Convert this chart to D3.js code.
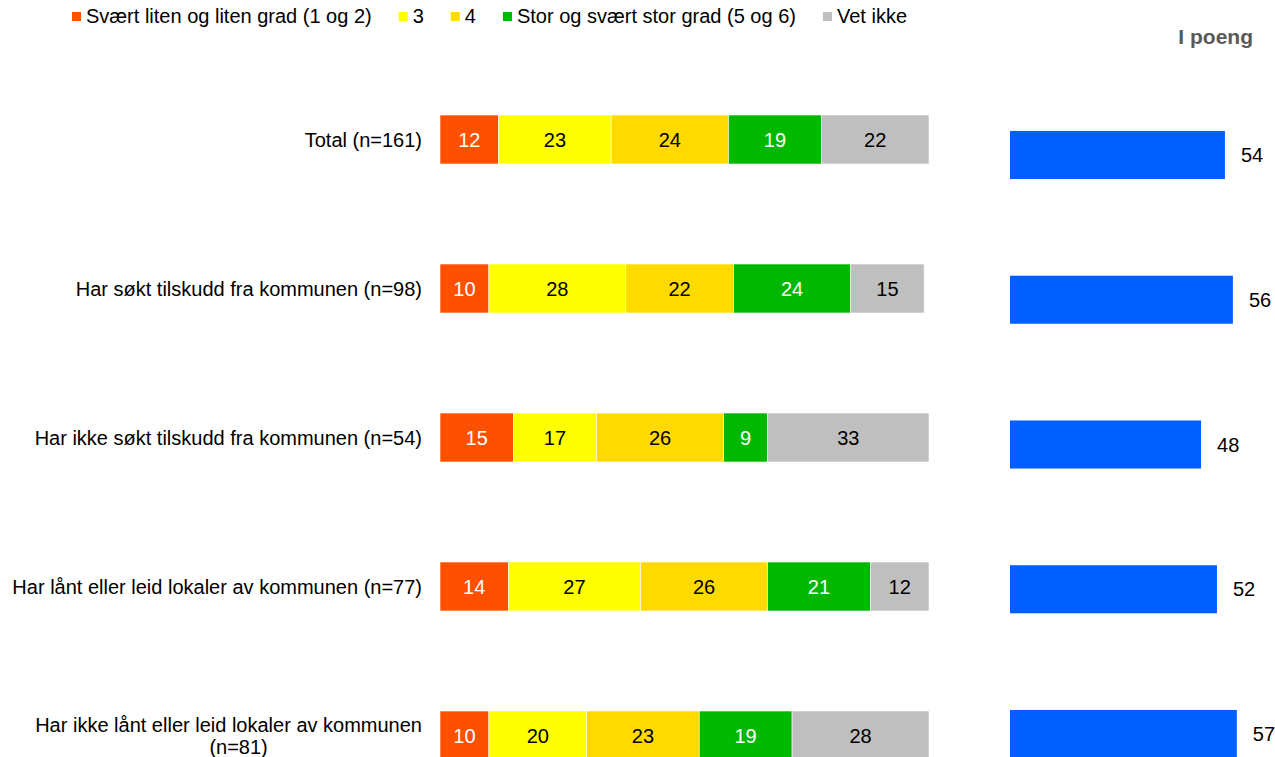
<!DOCTYPE html>
<html>
<head>
<meta charset="utf-8">
<script src="https://cdn.jsdelivr.net/npm/d3@7.9.0/dist/d3.min.js"></script>
<style>
  html, body { margin: 0; padding: 0; background: #fff; }
  svg { display: block; font-family: Arial, "Liberation Sans", sans-serif; }
</style>
</head>
<body>
<svg id="chart" width="1275" height="757"></svg>
<script>
/* ---------- Data ---------- */
const categories = [
  "Total (n=161)",
  "Har søkt tilskudd fra kommunen (n=98)",
  "Har ikke søkt tilskudd fra kommunen (n=54)",
  "Har lånt eller leid lokaler av kommunen (n=77)",
  "Har ikke lånt eller leid lokaler av kommunen|(n=81)"
];
const seriesNames = [
  "Svært liten og liten grad (1 og 2)",
  "3",
  "4",
  "Stor og svært stor grad (5 og 6)",
  "Vet ikke"
];
const lowValues   = [12, 10, 15, 14, 10];
const threeValues = [23, 28, 17, 27, 20];
const fourValues  = [24, 22, 26, 26, 23];
const highValues  = [19, 24, 9, 21, 19];
const dkValues    = [22, 15, 33, 12, 28];
const pointValues = [54, 56, 48, 52, 57];
const pointTitle  = "I poeng";

const seriesColors = ["#ff5000", "#ffff00", "#ffda00", "#00b800", "#bfbfbf"];
const labelColors  = ["#fff", "#000", "#000", "#fff", "#000"];
const pointColor   = "#0060ff";

/* ---------- Setup ---------- */
const svg = d3.select("#chart");
const FS = 20;

const rows = categories.map((c, i) => ({
  cat: c,
  vals: [lowValues[i], threeValues[i], fourValues[i], highValues[i], dkValues[i]],
  points: pointValues[i]
}));

const stack = d3.stack().keys(d3.range(seriesNames.length)).value((d, k) => d.vals[k]);
const stacked = stack(rows);

// left stacked bars
const x = d3.scaleLinear().domain([0, 100]).range([440, 929]);
const y = d3.scaleBand().domain(categories)
  .range([65, 810]).paddingInner(100 / 149).paddingOuter(50 / 149);

// right "I poeng" bars
const x2 = d3.scaleLinear().domain([0, 100]).range([1010, 1408]);
const y2 = d3.scaleBand().domain(categories)
  .range([82.6, 806.4]).paddingInner(0.668).paddingOuter(0.334);

/* ---------- Stacked bars ---------- */
const layers = svg.append("g").selectAll("g")
  .data(stacked)
  .join("g")
  .attr("fill", s => seriesColors[s.key]);

layers.selectAll("rect")
  .data(s => s.map(d => ({ d, key: s.key })))
  .join("rect")
  .attr("x", p => x(p.d[0]))
  .attr("y", p => y(p.d.data.cat))
  .attr("width", p => x(p.d[1]) - x(p.d[0]))
  .attr("height", y.bandwidth())
  .attr("stroke", "#fff")
  .attr("stroke-width", 0.6);

layers.selectAll("text")
  .data(s => s.map(d => ({ d, key: s.key })))
  .join("text")
  .attr("x", p => (x(p.d[0]) + x(p.d[1])) / 2)
  .attr("y", p => y(p.d.data.cat) + y.bandwidth() / 2 + 7)
  .attr("text-anchor", "middle")
  .attr("font-size", FS)
  .attr("fill", p => labelColors[p.key])
  .text(p => p.d[1] - p.d[0]);

/* ---------- Category labels ---------- */
svg.append("g").selectAll("text")
  .data(categories)
  .join("text")
  .attr("font-size", FS)
  .attr("fill", "#000")
  .each(function (c) {
    const lines = c.split("|");
    const t = d3.select(this);
    const cy = y(c) + y.bandwidth() / 2;
    if (lines.length === 1) {
      t.attr("x", 422).attr("y", cy + 7).attr("text-anchor", "end").text(c);
    } else {
      // wrapped label: first line right aligned, second centered under it
      t.attr("text-anchor", "end");
      t.append("tspan").attr("x", 422).attr("y", cy - 4).text(lines[0]);
      const w = t.select("tspan").node().getComputedTextLength();
      t.append("tspan").attr("x", 422 - w / 2 + 10).attr("y", cy + 18)
        .attr("text-anchor", "middle").text(lines[1]);
    }
  });

/* ---------- Points bars ---------- */
const pts = svg.append("g");
pts.selectAll("rect")
  .data(rows)
  .join("rect")
  .attr("x", x2(0))
  .attr("y", d => y2(d.cat))
  .attr("width", d => x2(d.points) - x2(0))
  .attr("height", y2.bandwidth())
  .attr("fill", pointColor);

pts.selectAll("text")
  .data(rows)
  .join("text")
  .attr("x", d => x2(d.points) + 16)
  .attr("y", d => y2(d.cat) + y2.bandwidth() / 2 + 7)
  .attr("font-size", FS)
  .attr("fill", "#000")
  .text(d => d.points);

svg.append("text")
  .attr("x", 1253).attr("y", 44)
  .attr("text-anchor", "end")
  .attr("font-size", FS + 1)
  .attr("font-weight", "bold")
  .attr("fill", "#595959")
  .text(pointTitle);

/* ---------- Legend ---------- */
const legend = svg.append("g");
let lx = 72;
seriesNames.forEach((name, i) => {
  legend.append("rect")
    .attr("x", lx).attr("y", 12)
    .attr("width", 9).attr("height", 9)
    .attr("fill", seriesColors[i]);
  const t = legend.append("text")
    .attr("x", lx + 14).attr("y", 23)
    .attr("font-size", FS)
    .attr("fill", "#000")
    .text(name);
  lx += 14 + t.node().getComputedTextLength() + 27;
});
</script>
</body>
</html>
